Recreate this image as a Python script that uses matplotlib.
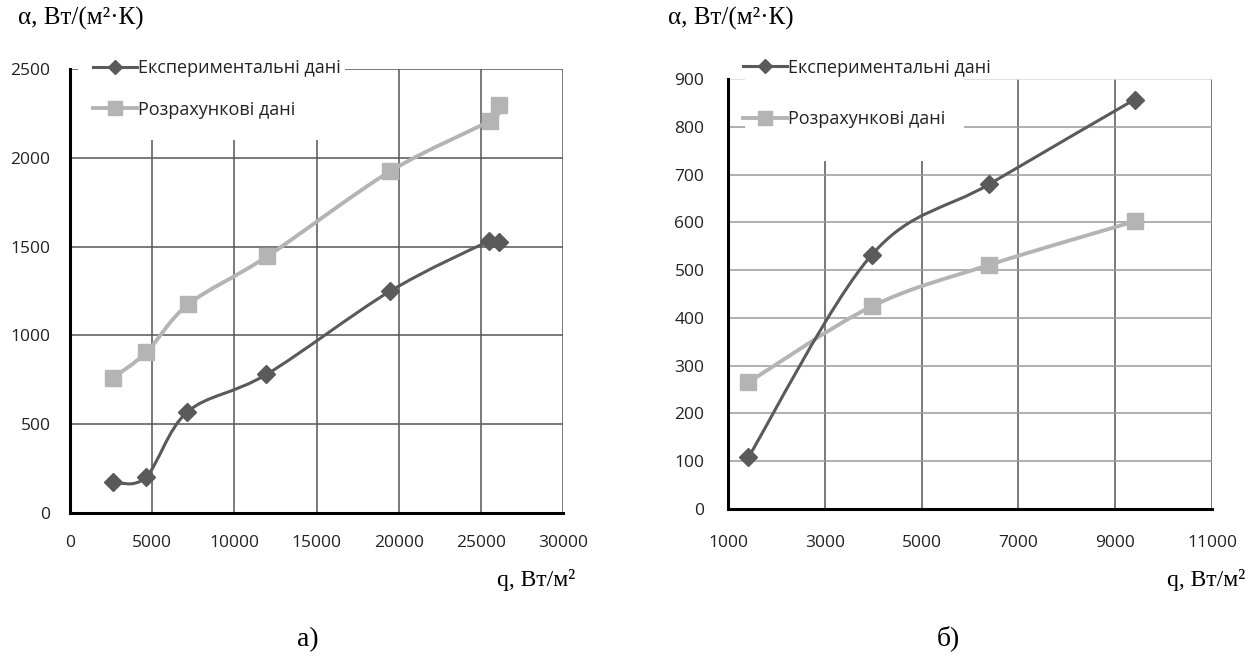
import numpy as np
import matplotlib
matplotlib.use("Agg")
import matplotlib.pyplot as plt
from matplotlib.path import Path
from matplotlib.patches import PathPatch, Rectangle
from matplotlib.lines import Line2D

plt.rcParams['font.family'] = ['Open Sans', 'DejaVu Sans']

# --- chart a) ---
q_exp_a = [2600, 4600, 7150, 11950, 19500, 25500, 26100]
alpha_exp_a = [175, 200, 570, 780, 1250, 1530, 1525]
q_calc_a = [2600, 4650, 7200, 12000, 19500, 25550, 26100]
alpha_calc_a = [760, 905, 1175, 1445, 1925, 2210, 2295]

# --- chart б) ---
q_exp_b = [1420, 3970, 6400, 9400]
alpha_exp_b = [108, 532, 680, 857]
q_calc_b = [1420, 3970, 6400, 9400]
alpha_calc_b = [265, 424, 511, 602]

label_exp = 'Експериментальні дані'
label_calc = 'Розрахункові дані'
c_exp = '#5a5a5a'
c_calc = '#b4b4b4'
serif = ['Liberation Serif', 'DejaVu Serif']


def smooth_path(x, y):
    """Excel-style smoothed line: Catmull-Rom segments as cubic Beziers."""
    p = np.column_stack([x, y]).astype(float)
    n = len(p)
    verts = [p[0]]
    codes = [Path.MOVETO]
    for i in range(n - 1):
        p0 = p[i - 1] if i > 0 else p[i]
        p3 = p[i + 2] if i + 2 < n else p[i + 1]
        c1 = p[i] + (p[i + 1] - p0) / 6
        c2 = p[i + 1] - (p3 - p[i]) / 6
        verts += [c1, c2, p[i + 1]]
        codes += [Path.CURVE4] * 3
    return Path(verts, codes)


def draw_series(ax, x, y, color, lw, marker, ms):
    ax.add_patch(PathPatch(smooth_path(x, y), fill=False, edgecolor=color,
                           lw=lw, zorder=3, capstyle='round'))
    ax.plot(x, y, ls='none', marker=marker, ms=ms, color=color, zorder=4)


def style_axes(ax, ypad, xpad):
    ax.set_axisbelow(True)
    ax.grid(True, color='#555555', lw=1.1)
    for s in ('top', 'right'):
        ax.spines[s].set_visible(False)
    for s in ('left', 'bottom'):
        ax.spines[s].set_linewidth(2.2)
        ax.spines[s].set_color('black')
        ax.spines[s].set_zorder(5)
    ax.tick_params(length=0, labelsize=12.5, colors='#222222')
    ax.tick_params(axis='y', pad=ypad)
    ax.tick_params(axis='x', pad=xpad)


def legend(ax, anchor, spacing):
    handles = [Line2D([], [], color=c_exp, lw=2.2, marker='D', ms=7.5),
               Line2D([], [], color=c_calc, lw=2.8, marker='s', ms=10.5)]
    ax.legend(handles, [label_exp, label_calc], loc='upper left',
              bbox_to_anchor=anchor, frameon=False, fontsize=13,
              borderpad=0, borderaxespad=0, handlelength=2.45,
              handletextpad=0.05, labelspacing=spacing, labelcolor='#222222')


fig = plt.figure(figsize=(12.56, 6.57), dpi=100)
W, H = 1256, 657

ax1 = fig.add_axes([70 / W, 1 - 513 / H, 493 / W, 444 / H])
ax1.set_xlim(0, 30000)
ax1.set_ylim(0, 2500)
ax1.set_xticks(range(0, 30001, 5000))
ax1.set_yticks(range(0, 2501, 500))
style_axes(ax1, 14, 16)
ax1.add_patch(Rectangle((0.016, 0.84), 0.542, 0.19, transform=ax1.transAxes,
                        facecolor='white', edgecolor='none', zorder=1,
                        clip_on=False))
draw_series(ax1, q_calc_a, alpha_calc_a, c_calc, 2.8, 's', 11.5)
draw_series(ax1, q_exp_a, alpha_exp_a, c_exp, 2.2, 'D', 9)
legend(ax1, (0.047, 1.022), 1.3)

ax2 = fig.add_axes([728 / W, 1 - 509 / H, 484 / W, 430 / H])
ax2.set_xlim(1000, 11000)
ax2.set_ylim(0, 900)
ax2.set_xticks(range(1000, 11001, 2000))
ax2.set_yticks(range(0, 901, 100))
style_axes(ax2, 17, 19)
for gl in ax2.get_ygridlines():
    gl.set_color('#9a9a9a')
ax2.get_ygridlines()[-1].set_color('#d8d8d8')
ax2.get_ygridlines()[-1].set_zorder(2)
ax2.add_patch(Rectangle((0.035, 0.809), 0.453, 0.27, transform=ax2.transAxes,
                        facecolor='white', edgecolor='none', zorder=1,
                        clip_on=False))
draw_series(ax2, q_calc_b, alpha_calc_b, c_calc, 2.8, 's', 11.5)
draw_series(ax2, q_exp_b, alpha_exp_b, c_exp, 2.2, 'D', 9)
legend(ax2, (0.031, 1.047), 1.85)

# axis titles and panel captions
title = 'α, Вт/(м²·К)'
fig.text(18 / W, 1 - 18 / H, title, family=serif, fontsize=18, va='center')
fig.text(668 / W, 1 - 18 / H, title, family=serif, fontsize=18, va='center')
fig.text(575 / W, 1 - 580 / H, 'q, Вт/м²', family=serif, fontsize=17,
         va='center', ha='right')
fig.text(1245 / W, 1 - 580 / H, 'q, Вт/м²', family=serif, fontsize=17,
         va='center', ha='right')
fig.text(308 / W, 1 - 640 / H, 'а)', family=serif, fontsize=20,
         va='center', ha='center')
fig.text(948 / W, 1 - 638 / H, 'б)', family=serif, fontsize=20,
         va='center', ha='center')

fig.savefig('out.png', dpi=100)
